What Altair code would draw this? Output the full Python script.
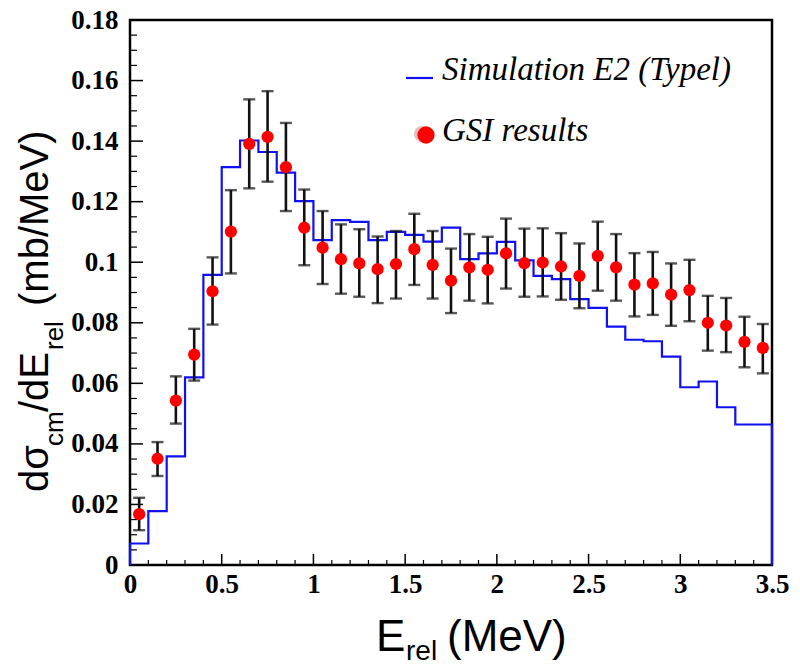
import altair as alt
import pandas as pd

# ---------------- data ----------------
bin_edges = [0.0, 0.1, 0.2, 0.3, 0.4, 0.5, 0.6, 0.7, 0.8, 0.9, 1.0, 1.1, 1.2,
             1.3, 1.4, 1.5, 1.6, 1.7, 1.8, 1.9, 2.0, 2.1, 2.2, 2.3, 2.4, 2.5,
             2.6, 2.7, 2.8, 2.9, 3.0, 3.1, 3.2, 3.3, 3.4, 3.5]
sim_vals = [0.0071, 0.0178, 0.0359, 0.0620, 0.0958, 0.1314, 0.1402, 0.1364,
            0.1296, 0.1202, 0.1073, 0.1139, 0.1133, 0.1073, 0.1100, 0.1090,
            0.1068, 0.1114, 0.1010, 0.1029, 0.1067, 0.1006, 0.0955, 0.0944,
            0.0878, 0.0849, 0.0787, 0.0744, 0.0739, 0.0688, 0.0587, 0.0606,
            0.0521, 0.0464, 0.0464]

e_centers = [0.05, 0.15, 0.25, 0.35, 0.45, 0.55, 0.65, 0.75, 0.85, 0.95, 1.05,
             1.15, 1.25, 1.35, 1.45, 1.55, 1.65, 1.75, 1.85, 1.95, 2.05, 2.15,
             2.25, 2.35, 2.45, 2.55, 2.65, 2.75, 2.85, 2.95, 3.05, 3.15, 3.25,
             3.35, 3.45]
gsi_vals = [0.0168, 0.0351, 0.0543, 0.0695, 0.0904, 0.1101, 0.1391, 0.1414,
            0.1314, 0.1114, 0.1048, 0.1010, 0.0996, 0.0977, 0.0994, 0.1043,
            0.0991, 0.0939, 0.0983, 0.0975, 0.1029, 0.0997, 0.0999, 0.0986,
            0.0955, 0.1021, 0.0983, 0.0926, 0.0930, 0.0893, 0.0908, 0.0800,
            0.0791, 0.0737, 0.0717]
gsi_hi = [0.0222, 0.0406, 0.0623, 0.0780, 0.1016, 0.1238, 0.1538, 0.1565,
          0.1460, 0.1240, 0.1169, 0.1125, 0.1109, 0.1085, 0.1103, 0.1160,
          0.1103, 0.1045, 0.1093, 0.1084, 0.1144, 0.1111, 0.1112, 0.1096,
          0.1062, 0.1134, 0.1093, 0.1030, 0.1034, 0.0996, 0.1008, 0.0889,
          0.0882, 0.0820, 0.0796]
gsi_lo = [0.0115, 0.0294, 0.0467, 0.0609, 0.0794, 0.0963, 0.1244, 0.1266,
          0.1169, 0.0990, 0.0928, 0.0896, 0.0886, 0.0865, 0.0880, 0.0925,
          0.0880, 0.0832, 0.0873, 0.0864, 0.0913, 0.0886, 0.0887, 0.0876,
          0.0848, 0.0906, 0.0873, 0.0821, 0.0826, 0.0790, 0.0805, 0.0708,
          0.0703, 0.0653, 0.0633]

x_label_vals = [0, 0.5, 1, 1.5, 2, 2.5, 3, 3.5]
y_label_vals = [0, 0.02, 0.04, 0.06, 0.08, 0.1, 0.12, 0.14, 0.16, 0.18]
x_major_ticks = [0.5, 1.0, 1.5, 2.0, 2.5, 3.0]
x_minor_ticks = [0.1, 0.2, 0.3, 0.4, 0.6, 0.7, 0.8, 0.9, 1.1, 1.2, 1.3, 1.4,
                 1.6, 1.7, 1.8, 1.9, 2.1, 2.2, 2.3, 2.4, 2.6, 2.7, 2.8, 2.9,
                 3.1, 3.2, 3.3, 3.4]
y_major_ticks = [0.02, 0.04, 0.06, 0.08, 0.1, 0.12, 0.14, 0.16]
y_minor_ticks = [0.005, 0.01, 0.015, 0.025, 0.03, 0.035, 0.045, 0.05, 0.055,
                 0.065, 0.07, 0.075, 0.085, 0.09, 0.095, 0.105, 0.11, 0.115,
                 0.125, 0.13, 0.135, 0.145, 0.15, 0.155, 0.165, 0.17, 0.175]

legend_sim = "Simulation E2 (Typel)"
legend_gsi = "GSI results"

# ---------------- tables ----------------
hist_x = [bin_edges[0]] + bin_edges[:-1] + [bin_edges[-1], bin_edges[-1]]
hist_y = [0.0] + sim_vals + [sim_vals[-1], 0.0]
hist_df = pd.DataFrame({"x": hist_x, "y": hist_y, "i": list(range(len(hist_x)))})
gsi_df = pd.DataFrame({"x": e_centers, "y": gsi_vals, "lo": gsi_lo, "hi": gsi_hi})

W, H = 642, 545
XD = [0, 3.5]
YD = [0, 0.18]

xs = alt.Scale(domain=XD, nice=False, zero=False)
ys = alt.Scale(domain=YD, nice=False, zero=False)

x_axis = alt.Axis(values=x_label_vals, format="~g", title=None, grid=False,
                  domain=False, ticks=False, labelFlush=False, labelOverlap=False,
                  labelFont="Liberation Serif", labelFontWeight="bold",
                  labelFontSize=27, labelColor="black", labelPadding=6)
y_axis = alt.Axis(values=y_label_vals, format="~g", title=None, grid=False,
                  domain=False, ticks=False, labelFlush=False, labelOverlap=False,
                  labelFont="Liberation Serif", labelFontWeight="bold",
                  labelFontSize=27, labelColor="black", labelPadding=12)

# axis-label carrier layer (invisible)
base_axes = alt.Chart(gsi_df).mark_point(opacity=0).encode(
    x=alt.X("x:Q", scale=xs, axis=x_axis),
    y=alt.Y("y:Q", scale=ys, axis=y_axis),
)

# inward ticks
xmaj = alt.Chart(pd.DataFrame({"t": x_major_ticks})).mark_rule(color="black", strokeWidth=1.5).encode(
    x=alt.X("t:Q", scale=xs), y=alt.value(H), y2=alt.value(H - 11))
xmin = alt.Chart(pd.DataFrame({"t": x_minor_ticks})).mark_rule(color="black", strokeWidth=1.2).encode(
    x=alt.X("t:Q", scale=xs), y=alt.value(H), y2=alt.value(H - 5))
ymaj = alt.Chart(pd.DataFrame({"t": y_major_ticks})).mark_rule(color="black", strokeWidth=1.5).encode(
    y=alt.Y("t:Q", scale=ys), x=alt.value(0), x2=alt.value(13))
ymin = alt.Chart(pd.DataFrame({"t": y_minor_ticks})).mark_rule(color="black", strokeWidth=1.2).encode(
    y=alt.Y("t:Q", scale=ys), x=alt.value(0), x2=alt.value(7))

hist = alt.Chart(hist_df).mark_line(interpolate="step-after", color="#1010f0", strokeWidth=2.2).encode(
    x=alt.X("x:Q", scale=xs), y=alt.Y("y:Q", scale=ys), order=alt.Order("i:Q"))

err = alt.Chart(gsi_df).mark_rule(color="#111111", strokeWidth=2.6).encode(
    x=alt.X("x:Q", scale=xs), y=alt.Y("lo:Q", scale=ys), y2="hi:Q")
cap_lo = alt.Chart(gsi_df).mark_tick(orient="horizontal", color="#111111", size=12, thickness=2.4).encode(
    x=alt.X("x:Q", scale=xs), y=alt.Y("lo:Q", scale=ys))
cap_hi = alt.Chart(gsi_df).mark_tick(orient="horizontal", color="#111111", size=12, thickness=2.4).encode(
    x=alt.X("x:Q", scale=xs), y=alt.Y("hi:Q", scale=ys))
dots = alt.Chart(gsi_df).mark_circle(color="#ff0000", size=150, opacity=1).encode(
    x=alt.X("x:Q", scale=xs), y=alt.Y("y:Q", scale=ys))

one = pd.DataFrame({"a": [1]})

def txt(s, x, y, size, font="Liberation Sans", style="normal", angle=0, weight="normal"):
    kw = dict(align="left", baseline="alphabetic", font=font, fontSize=size,
              fontStyle=style, fontWeight=weight, color="black")
    if angle:
        kw["angle"] = angle
    return alt.Chart(one).mark_text(**kw).encode(
        x=alt.value(x), y=alt.value(y), text=alt.value(s))

OX, OY = 130, 20  # plot origin in page pixels

# legend
leg_line = alt.Chart(one).mark_rule(color="#1010f0", strokeWidth=2.2).encode(
    x=alt.value(406 - OX), x2=alt.value(433 - OX), y=alt.value(78 - OY))
leg_shadow = alt.Chart(one).mark_circle(color="#e0b0b0", size=260, opacity=0.8).encode(
    x=alt.value(422 - OX), y=alt.value(134 - OY))
leg_dot = alt.Chart(one).mark_circle(color="#ff0000", size=300, opacity=1).encode(
    x=alt.value(426 - OX), y=alt.value(135 - OY))
leg_t1 = txt(legend_sim, 442 - OX, 80 - OY, 33, font="Liberation Serif", style="italic")
leg_t2 = txt(legend_gsi, 442 - OX, 141 - OY, 33, font="Liberation Serif", style="italic")

# x title: E_rel (MeV)
xt1 = txt("E", 376 - OX, 651 - OY, 44)
xt2 = txt("rel", 406 - OX, 660 - OY, 28)
xt3 = txt("(MeV)", 447 - OX, 651 - OY, 44)

# y title: dσ_cm/dE_rel (mb/MeV), rotated
BX, SX = 48, 63
yt1 = txt("dσ", BX - OX, 492 - OY, 40, angle=270)
yt2 = txt("cm", SX - OX, 446 - OY, 26, angle=270)
yt3 = txt("/", BX - OX, 412 - OY, 40, angle=270)
yt4 = txt("dE", BX - OX, 401 - OY, 40, angle=270)
yt5 = txt("rel", SX - OX, 350 - OY, 26, angle=270)
yt6 = txt("(mb/MeV)", BX - OX, 306 - OY, 40, angle=270)

chart = alt.layer(
    base_axes, xmaj, xmin, ymaj, ymin, hist, err, cap_lo, cap_hi, dots,
    leg_line, leg_shadow, leg_dot, leg_t1, leg_t2,
    xt1, xt2, xt3, yt1, yt2, yt3, yt4, yt5, yt6,
).properties(
    width=W, height=H,
    autosize=alt.AutoSizeParams(type="none"),
    padding={"left": OX, "top": OY, "right": 800 - OX - W, "bottom": 666 - OY - H},
    background="white",
).configure_view(
    stroke="black", strokeWidth=2.5
)

chart.save("out.html", embed_options={"renderer": "svg", "actions": False})
